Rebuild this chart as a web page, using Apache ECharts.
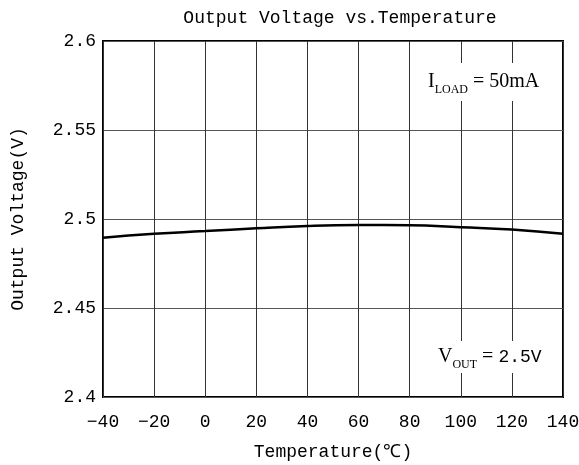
<!DOCTYPE html>
<html>
<head>
<meta charset="utf-8">
<script src="https://cdn.jsdelivr.net/npm/echarts@6/dist/echarts.min.js"></script>
<style>html,body{margin:0;padding:0;background:#fff}#c{width:579px;height:465px}</style>
</head>
<body>
<div id="c"></div>
<script>
const temperature = [-40, -20, 0, 20, 40, 60, 80, 100, 120, 140];
const outputVoltage = [2.4895, 2.4917, 2.4932, 2.4948, 2.4961, 2.4966, 2.4965, 2.4954, 2.4941, 2.4917];
const yTicks = ['2.4', '2.45', '2.5', '2.55', '2.6'];
const titleText = 'Output Voltage vs.Temperature';
const xName = 'Temperature(℃)';
const yName = 'Output Voltage(V)';

const mono = 'Liberation Mono';
const serif = 'Liberation Serif';
const chart = echarts.init(document.getElementById('c'), null, {renderer: 'canvas'});
chart.setOption({
  animation: false,
  title: {
    text: titleText, left: 335, top: 4, textAlign: 'center',
    textStyle: {fontFamily: mono, fontSize: 18, fontWeight: 'normal', color: '#000'}
  },
  grid: {left: 103, right: 16, top: 41, bottom: 68, show: true, borderColor: '#000', borderWidth: 2,
    backgroundColor: 'transparent', containLabel: false, outerBoundsMode: 'none'},
  xAxis: {
    type: 'value', min: -40, max: 140, interval: 20,
    name: xName, nameLocation: 'middle', nameGap: 46,
    nameTextStyle: {fontFamily: mono, fontSize: 18, color: '#000'},
    axisLine: {show: false}, axisTick: {show: false},
    axisLabel: {fontFamily: mono, fontSize: 18, color: '#000', margin: 16, formatter: v => v < 0 ? '\u2212' + Math.abs(v) : String(v)},
    splitLine: {show: true, lineStyle: {color: '#333', width: 1}}
  },
  yAxis: {
    type: 'value', min: 2.4, max: 2.6, interval: 0.05,
    name: yName, nameLocation: 'middle', nameGap: 76, nameRotate: 90,
    nameTextStyle: {fontFamily: mono, fontSize: 18, color: '#000'},
    axisLine: {show: false}, axisTick: {show: false},
    axisLabel: {fontFamily: mono, fontSize: 18, color: '#000', margin: 7,
      formatter: v => { const m = yTicks.find(t => Math.abs(parseFloat(t) - v) < 1e-6); return m || String(v); }},
    splitLine: {show: true, lineStyle: {color: '#555', width: 1}}
  },
  series: [{
    type: 'line', data: temperature.map((t, i) => [t, outputVoltage[i]]),
    smooth: true, showSymbol: false, lineStyle: {color: '#000', width: 2.5}, z: 3
  }],
  graphic: [
    {type: 'text', left: 418, top: 63, z: 100,
      style: {text: '{a|I}{s|LOAD}{a| = 50mA}', backgroundColor: '#fff', padding: [5, 8, 5, 10],
        rich: {a: {fontFamily: serif, fontSize: 20, color: '#000', lineHeight: 28},
               s: {fontFamily: serif, fontSize: 12, color: '#000', verticalAlign: 'bottom', lineHeight: 22}}}},
    {type: 'text', left: 428, top: 341, z: 100,
      style: {text: '{a|V}{s|OUT}{a| = }{m|2.5V}', backgroundColor: '#fff', padding: [2, 8, 2, 10],
        rich: {a: {fontFamily: serif, fontSize: 20, color: '#000', lineHeight: 28},
               m: {fontFamily: mono, fontSize: 18, color: '#000', lineHeight: 28},
               s: {fontFamily: serif, fontSize: 12, color: '#000', verticalAlign: 'bottom', lineHeight: 22}}}}
  ]
});
</script>
</body>
</html>
